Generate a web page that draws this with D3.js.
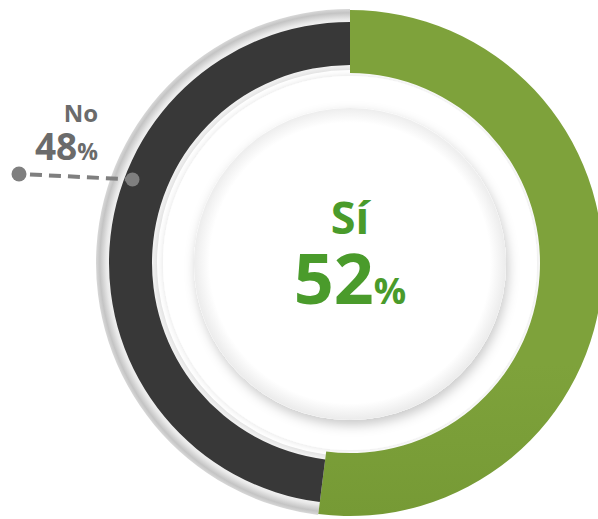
<!DOCTYPE html>
<html>
<head>
<meta charset="utf-8">
<script src="https://cdn.jsdelivr.net/npm/d3@7"></script>
<style>
  body { margin: 0; background: #fff; }
  svg { display: block; font-family: "Open Sans", "Liberation Sans", sans-serif; }
</style>
</head>
<body>
<svg id="chart"></svg>
<script>
var categories = ["Sí", "No"];
var values = [52, 48];
var labels = ["52", "48"];

var width = 598;
var height = 519;
var cx = 350;
var cy = 263;

var colors = { "Sí": "#7ea23b", "No": "#383838" };
var radii = { "Sí": [190, 253], "No": [198, 241] };

var data = categories.map((c, i) => ({ name: c, value: values[i], label: labels[i] }));

var svg = d3.select('#chart')
  .attr('width', width)
  .attr('height', height);

var defs = svg.append('defs');

var rimGrad = defs.append('radialGradient')
  .attr('id', 'rim')
  .attr('gradientUnits', 'userSpaceOnUse')
  .attr('cx', 0).attr('cy', 0).attr('r', 254);
rimGrad.append('stop').attr('offset', 0.76).attr('stop-color', '#e4e4e4');
rimGrad.append('stop').attr('offset', 0.78).attr('stop-color', '#f4f4f4');
rimGrad.append('stop').attr('offset', 0.945).attr('stop-color', '#f4f4f4');
rimGrad.append('stop').attr('offset', 0.96).attr('stop-color', '#e8e8e8');
rimGrad.append('stop').attr('offset', 0.985).attr('stop-color', '#c4c4c4');
rimGrad.append('stop').attr('offset', 1).attr('stop-color', '#d8d8d8');

var greenGrad = defs.append('linearGradient')
  .attr('id', 'greenShade')
  .attr('x1', 0).attr('y1', 0).attr('x2', 0).attr('y2', 1);
greenGrad.append('stop').attr('offset', 0).attr('stop-color', '#7ea23b');
greenGrad.append('stop').attr('offset', 0.7).attr('stop-color', '#7ea23b');
greenGrad.append('stop').attr('offset', 1).attr('stop-color', '#769a35');

var shadow = defs.append('filter')
  .attr('id', 'shadow')
  .attr('x', '-20%').attr('y', '-20%')
  .attr('width', '140%').attr('height', '140%');
shadow.append('feDropShadow')
  .attr('dx', 2).attr('dy', 5)
  .attr('stdDeviation', 6)
  .attr('flood-color', '#000')
  .attr('flood-opacity', 0.22);

var softShadow = defs.append('filter')
  .attr('id', 'softShadow')
  .attr('x', '-20%').attr('y', '-20%')
  .attr('width', '140%').attr('height', '140%');
softShadow.append('feDropShadow')
  .attr('dx', 0).attr('dy', 0)
  .attr('stdDeviation', 3)
  .attr('flood-color', '#000')
  .attr('flood-opacity', 0.12);

var g = svg.append('g').attr('transform', `translate(${cx},${cy})`);

var pie = d3.pie().sort(null).value(d => d.value);
var arcs = pie(data);

// faint ring behind the inner disk
g.append('circle')
  .attr('r', 187)
  .attr('fill', '#fff')
  .attr('filter', 'url(#softShadow)');

// grey rim around the dark slice
var noArc = arcs.find(d => d.data.name === "No");
g.append('path')
  .attr('d', d3.arc()
    .innerRadius(193)
    .outerRadius(254)
    .startAngle(noArc.startAngle)
    .endAngle(noArc.endAngle)())
  .attr('fill', 'url(#rim)');

g.selectAll('path.slice')
  .data(arcs)
  .enter()
  .append('path')
    .attr('class', 'slice')
    .attr('d', d => d3.arc()
      .innerRadius(radii[d.data.name][0])
      .outerRadius(radii[d.data.name][1])(d))
    .attr('fill', d => d.data.name === "Sí" ? 'url(#greenShade)' : colors[d.data.name]);

// inner disk
g.append('circle')
  .attr('r', 156)
  .attr('cy', 1)
  .attr('fill', '#fff')
  .attr('filter', 'url(#shadow)');

var diskGrad = defs.append('radialGradient')
  .attr('id', 'disk')
  .attr('gradientUnits', 'userSpaceOnUse')
  .attr('cx', 0).attr('cy', 0).attr('r', 156);
diskGrad.append('stop').attr('offset', 0.9).attr('stop-color', '#ffffff');
diskGrad.append('stop').attr('offset', 1).attr('stop-color', '#ececec');
g.append('circle')
  .attr('r', 156)
  .attr('cy', 1)
  .attr('fill', 'url(#disk)');

// centre label (Sí)
var si = data[0];
g.append('text')
  .attr('text-anchor', 'middle')
  .attr('y', -29)
  .attr('font-size', 45)
  .attr('font-weight', 700)
  .attr('fill', '#4a9b2b')
  .text(si.name);

var big = g.append('text')
  .attr('text-anchor', 'middle')
  .attr('y', 41)
  .attr('font-weight', 700)
  .attr('fill', '#4a9b2b');
big.append('tspan').attr('font-size', 70).text(si.label);
big.append('tspan').attr('font-size', 36).text('%');

// outside label (No) with leader line
var no = data[1];
var leaderAngle = 291 * Math.PI / 180;
var anchorR = 233;
var ax = cx + anchorR * Math.sin(leaderAngle);
var ay = cy - anchorR * Math.cos(leaderAngle);
var lx = 19, ly = 174;

svg.append('line')
  .attr('x1', lx).attr('y1', ly)
  .attr('x2', ax).attr('y2', ay)
  .attr('stroke', '#7f7f7f')
  .attr('stroke-width', 4)
  .attr('stroke-dasharray', '12,7')
  .attr('stroke-dashoffset', -11);

svg.append('circle').attr('cx', lx).attr('cy', ly).attr('r', 7.5).attr('fill', '#7f7f7f');
svg.append('circle').attr('cx', ax).attr('cy', ay).attr('r', 7).attr('fill', '#7f7f7f');

svg.append('text')
  .attr('x', 98).attr('y', 122)
  .attr('text-anchor', 'end')
  .attr('font-size', 24)
  .attr('font-weight', 700)
  .attr('fill', '#6b6b6b')
  .text(no.name);

var small = svg.append('text')
  .attr('x', 98).attr('y', 160)
  .attr('text-anchor', 'end')
  .attr('font-weight', 700)
  .attr('fill', '#6b6b6b');
small.append('tspan').attr('font-size', 37).text(no.label);
small.append('tspan').attr('font-size', 23).text('%');
</script>
</body>
</html>
